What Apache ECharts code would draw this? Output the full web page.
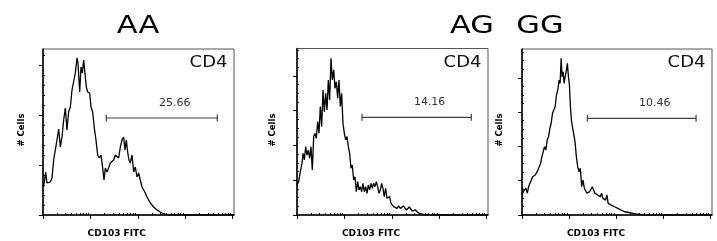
<!DOCTYPE html>
<html>
<head>
<meta charset="utf-8">
<script src="https://cdn.jsdelivr.net/npm/echarts@6/dist/echarts.min.js"></script>
<style>
  html, body { margin: 0; padding: 0; background: #fff; }
  #chart { width: 717px; height: 241px; }
</style>
</head>
<body>
<div id="chart"></div>
<script>
// Genotype panels
const genotypes = ["AA", "AG", "GG"];
const populationLabel = "CD4";
const xAxisTitle = "CD103 FITC";
const yAxisTitle = "# Cells";

// CD103 FITC histograms: [log10 intensity, cell count]
const histAA = [
    [0, 28], [0.028, 33], [0.056, 43], [0.084, 32], [0.12, 32], [0.155, 33], [0.19, 37], [0.225, 55],
    [0.26, 57], [0.295, 75], [0.331, 86], [0.366, 68], [0.401, 78], [0.436, 95], [0.471, 107], [0.506, 85],
    [0.541, 103], [0.577, 108], [0.612, 125], [0.647, 127], [0.682, 142], [0.717, 157], [0.738, 152], [0.774, 123],
    [0.802, 148], [0.83, 142], [0.858, 155], [0.893, 153], [0.914, 128], [0.942, 123], [0.985, 122], [1.013, 108],
    [1.048, 103], [1.083, 87], [1.118, 75], [1.153, 60], [1.188, 57], [1.224, 60], [1.259, 47], [1.287, 35],
    [1.315, 47], [1.35, 43], [1.385, 47], [1.421, 52], [1.456, 53], [1.491, 55], [1.526, 60], [1.561, 62],
    [1.596, 57], [1.632, 68], [1.667, 75], [1.702, 78], [1.73, 65], [1.758, 75], [1.786, 63], [1.814, 55],
    [1.842, 52], [1.878, 60], [1.913, 43], [1.948, 48], [1.983, 38], [2.018, 42], [2.053, 35], [2.089, 28],
    [2.124, 30], [2.159, 22], [2.194, 18], [2.229, 17], [2.264, 12], [2.3, 10], [2.335, 8], [2.37, 7],
    [2.405, 5], [2.44, 3], [2.511, 2], [2.581, 1], [2.651, 0], [4.03, 0]
];
const histAG = [
    [0, 17.3], [0.035, 19.2], [0.07, 24.9], [0.105, 29.7], [0.127, 35.5], [0.155, 31.7], [0.183, 39.3], [0.211, 34.5],
    [0.239, 37.4], [0.267, 32.6], [0.295, 39.3], [0.323, 25.9], [0.352, 45.1], [0.38, 47], [0.408, 44.1], [0.436, 53.7],
    [0.464, 47], [0.492, 62.4], [0.52, 50.8], [0.549, 71.9], [0.577, 59.5], [0.605, 70], [0.633, 60.4], [0.661, 77.7],
    [0.689, 66.2], [0.717, 90.2], [0.745, 77.7], [0.774, 83.5], [0.802, 72.9], [0.83, 76.7], [0.858, 67.2], [0.886, 77.7],
    [0.914, 62.4], [0.942, 70], [0.97, 52.8], [0.999, 47], [1.027, 43.2], [1.055, 45.1], [1.083, 39.3], [1.111, 35.5],
    [1.139, 26.9], [1.167, 28.8], [1.195, 20.1], [1.224, 22], [1.252, 13.4], [1.28, 19.2], [1.308, 14.4], [1.336, 16.3],
    [1.364, 13.4], [1.392, 18.2], [1.421, 13.4], [1.449, 16.3], [1.477, 12.5], [1.505, 17.3], [1.533, 14.4], [1.561, 18.2],
    [1.589, 15.3], [1.617, 18.2], [1.646, 16.3], [1.674, 19.2], [1.702, 16.3], [1.73, 12.5], [1.758, 14.4], [1.786, 18.2],
    [1.814, 15.3], [1.842, 10.6], [1.871, 15.3], [1.899, 9.6], [1.927, 8.6], [1.955, 10.6], [1.983, 6.7], [2.011, 5.8],
    [2.039, 4.8], [2.075, 5.8], [2.11, 3.8], [2.145, 5.2], [2.18, 3.8], [2.243, 5.2], [2.307, 2.9], [2.37, 4.6],
    [2.433, 2.3], [2.496, 2.9], [2.56, 1.2], [2.623, 0.6], [2.707, 0], [4.03, 0]
];
const histGG = [
    [0, 11.7], [0.028, 13.6], [0.056, 12.7], [0.084, 15.6], [0.113, 12.7], [0.141, 16.5], [0.169, 18.5], [0.197, 19.4],
    [0.225, 22.3], [0.253, 21.4], [0.281, 23.3], [0.309, 24.3], [0.338, 26.2], [0.366, 28.2], [0.394, 30.1], [0.422, 34],
    [0.45, 35], [0.478, 39.8], [0.506, 37.9], [0.534, 43.7], [0.563, 45.6], [0.591, 50.5], [0.619, 53.5], [0.647, 59.3],
    [0.675, 60.2], [0.703, 63.1], [0.731, 70], [0.759, 72.9], [0.788, 78.7], [0.809, 76.8], [0.83, 91.4], [0.851, 80.6],
    [0.872, 83.5], [0.893, 76.8], [0.914, 80.6], [0.942, 84.5], [0.963, 88.4], [0.985, 80.6], [1.006, 75.8], [1.027, 63.1],
    [1.048, 55.4], [1.069, 51.5], [1.097, 50.5], [1.125, 42.7], [1.153, 34], [1.181, 28.2], [1.21, 25.2], [1.238, 27.2],
    [1.266, 16.5], [1.294, 20.4], [1.322, 15.6], [1.35, 14.6], [1.378, 12.7], [1.406, 11.7], [1.435, 13.6], [1.463, 14.6],
    [1.491, 16.5], [1.519, 14.6], [1.547, 12.7], [1.575, 13.6], [1.603, 11.7], [1.632, 12.7], [1.66, 10.7], [1.688, 12.7],
    [1.716, 9.7], [1.744, 10.7], [1.772, 8.7], [1.8, 11.7], [1.828, 6.8], [1.857, 7.8], [1.892, 5.8], [1.927, 6.8],
    [1.962, 4.8], [1.997, 5.2], [2.032, 3.9], [2.068, 3.3], [2.103, 2.9], [2.138, 2.5], [2.173, 1.9], [2.208, 2.2],
    [2.243, 1.6], [2.278, 1.3], [2.349, 1], [2.419, 0.6], [2.567, 0], [4.03, 0]
];
const histograms = [histAA, histAG, histGG];

// Marker gates: start / end (log10 intensity), level (count), percent positive
const gateStart = [1.335, 1.371, 1.386];
const gateEnd = [3.677, 3.677, 3.692];
const gateLevel = [97, 56.2, 56.4];
const gatePercent = ["25.66", "14.16", "10.46"];

// Axes: 4 log decades on x, counts on y
const xMax = 4.03;
const xDecades = [0, 1, 2, 3, 4];
const yMajorStep = [50, 20, 20];
const yMinorStep = [10, 5, 5];
const yMax = [166, 95.8, 96.8];

// Layout
const grids = [
    { left: 43, top: 49, width: 191, height: 166 },
    { left: 297, top: 48.5, width: 191, height: 166.5 },
    { left: 522, top: 49, width: 190, height: 166 }
];
const titlePos = [[138, 26.5], [472, 26.5], [540, 26.5]];
const yTitleX = [22, 273, 500];
const xTitleX = [116.7, 371, 596];

// Ticks at 2..9 inside each decade
const xMinorTicks = [];
for (let d = 0; d < 4; d++) {
    for (let k = 2; k <= 9; k++) xMinorTicks.push(d + Math.log10(k));
}
const yTicks = (step, max) => {
    const out = [];
    for (let v = 0; v <= max; v += step) out.push(v);
    return out;
};

const font = "DejaVu Sans";

const makeGate = (i) => (params, api) => {
    const y = api.value(2);
    const a = api.coord([api.value(0), y]);
    const b = api.coord([api.value(1), y]);
    const stroke = { stroke: "#404040", lineWidth: 1.2 };
    return {
        type: "group",
        children: [
            { type: "line", shape: { x1: a[0], y1: a[1], x2: b[0], y2: b[1] }, style: stroke },
            { type: "line", shape: { x1: a[0], y1: a[1] - 3.5, x2: a[0], y2: a[1] + 3.5 }, style: stroke },
            { type: "line", shape: { x1: b[0], y1: b[1] - 3.5, x2: b[0], y2: b[1] + 3.5 }, style: stroke },
            {
                type: "text",
                x: (a[0] + b[0]) / 2 + 13,
                y: a[1] - 15,
                style: {
                    text: gatePercent[i], fill: "#333", font: `11px "${font}"`,
                    textAlign: "center", textVerticalAlign: "middle", align: "center", verticalAlign: "middle"
                }
            }
        ]
    };
};

const xAxes = [];
const yAxes = [];
const series = [];
const graphic = [];

genotypes.forEach((name, i) => {
    // main axes: line + decade ticks
    xAxes.push({
        gridIndex: i, type: "value", min: 0, max: xMax,
        axisLine: { show: true, lineStyle: { color: "#000", width: 1.5 } },
        axisTick: { show: true, customValues: xDecades, length: 4, lineStyle: { color: "#000", width: 1 } },
        axisLabel: { show: false }, splitLine: { show: false }
    });
    // minor log ticks
    xAxes.push({
        gridIndex: i, type: "value", min: 0, max: xMax,
        axisLine: { show: false },
        axisTick: { show: true, customValues: xMinorTicks, length: 2, lineStyle: { color: "#000", width: 1 } },
        axisLabel: { show: false }, splitLine: { show: false }
    });
    const majors = yTicks(yMajorStep[i], yMax[i]);
    const minors = yTicks(yMinorStep[i], yMax[i]).filter((v) => v % yMajorStep[i] !== 0);
    yAxes.push({
        gridIndex: i, type: "value", min: 0, max: yMax[i],
        axisLine: { show: true, lineStyle: { color: "#000", width: 1.5 } },
        axisTick: { show: true, customValues: majors, length: 4, lineStyle: { color: "#000", width: 1 } },
        axisLabel: { show: false }, splitLine: { show: false }
    });
    yAxes.push({
        gridIndex: i, type: "value", min: 0, max: yMax[i],
        axisLine: { show: false },
        axisTick: { show: true, customValues: minors, length: 2, lineStyle: { color: "#000", width: 1 } },
        axisLabel: { show: false }, splitLine: { show: false }
    });

    series.push({
        type: "line",
        xAxisIndex: 2 * i, yAxisIndex: 2 * i,
        data: histograms[i],
        showSymbol: false,
        lineStyle: { color: "#000", width: 1.3 },
        z: 3
    });
    series.push({
        type: "custom",
        xAxisIndex: 2 * i, yAxisIndex: 2 * i,
        data: [[gateStart[i], gateEnd[i], gateLevel[i]]],
        renderItem: makeGate(i),
        z: 4
    });

    const g = grids[i];
    graphic.push({
        type: "text", x: titlePos[i][0], y: titlePos[i][1], scaleX: 1.22,
        style: { text: name, fill: "#000", font: `25px "${font}"`,
            textAlign: "center", textVerticalAlign: "middle", align: "center", verticalAlign: "middle" }
    });
    graphic.push({
        type: "text", x: g.left + g.width - 6.5, y: 63, scaleX: 1.2,
        style: { text: populationLabel, fill: "#111", font: `15px "${font}"`,
            textAlign: "right", textVerticalAlign: "middle", align: "right", verticalAlign: "middle" }
    });
    graphic.push({
        type: "text", x: yTitleX[i], y: 130, rotation: Math.PI / 2,
        style: { text: yAxisTitle, fill: "#000", font: `bold 8.5px "${font}"`,
            textAlign: "center", textVerticalAlign: "middle", align: "center", verticalAlign: "middle" }
    });
    graphic.push({
        type: "text", x: xTitleX[i], y: 234,
        style: { text: xAxisTitle, fill: "#000", font: `bold 9px "${font}"`,
            textAlign: "center", textVerticalAlign: "middle", align: "center", verticalAlign: "middle" }
    });
});

const chart = echarts.init(document.getElementById("chart"));
chart.setOption({
    animation: false,
    backgroundColor: "#fff",
    grid: grids.map((g) => ({ ...g, show: true, borderColor: "#555", borderWidth: 1, containLabel: false })),
    xAxis: xAxes,
    yAxis: yAxes,
    series: series,
    graphic: graphic
});
</script>
</body>
</html>
